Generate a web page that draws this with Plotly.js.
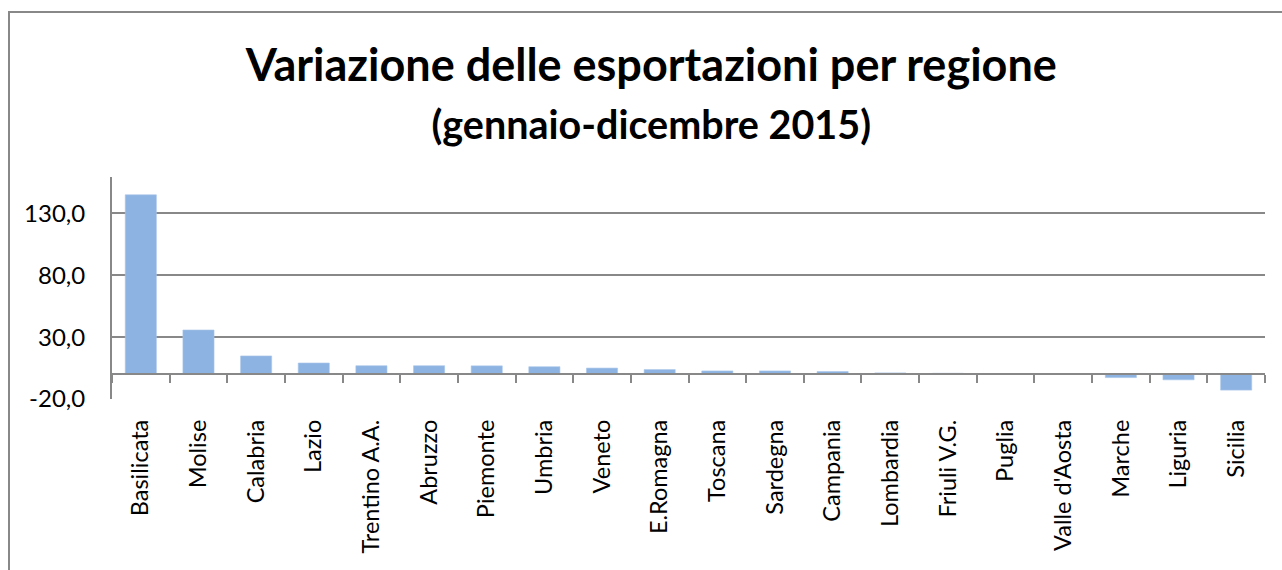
<!DOCTYPE html>
<html>
<head>
<meta charset="utf-8">
<script src="https://cdn.plot.ly/plotly-3.0.1.min.js"></script>
<style>
  html, body { margin: 0; padding: 0; overflow: hidden; background: #fff; }
  #chart { position: absolute; left: 0; top: 0; width: 1282px; height: 570px; }
  #frame { position: absolute; left: 8px; top: 11px; width: 1400px; height: 700px;
           border: 2px solid #888888; pointer-events: none; }
</style>
</head>
<body>
<div id="chart"></div>
<div id="frame"></div>
<script>
const regions = ["Basilicata", "Molise", "Calabria", "Lazio", "Trentino A.A.", "Abruzzo",
  "Piemonte", "Umbria", "Veneto", "E.Romagna", "Toscana", "Sardegna", "Campania",
  "Lombardia", "Friuli V.G.", "Puglia", "Valle d'Aosta", "Marche", "Liguria", "Sicilia"];
const variation = [145.1, 35.8, 14.8, 9.1, 6.9, 6.9, 6.8, 6.1, 5.0, 3.8, 2.7, 2.7, 2.2,
  1.1, 0.8, 0.1, 0.1, -2.7, -4.5, -12.8];
const yTicks = [-20, 30, 80, 130];
const yTickLabels = ["-20,0", "30,0", "80,0", "130,0"];
const titleLine1 = "Variazione delle esportazioni per regione";
const titleLine2 = "(gennaio-dicembre 2015)";

const FONT = "Lato, 'Open Sans', sans-serif";
const GRID = "#888888";
const n = regions.length;

const traces = [
  {
    type: "bar", x: regions, y: variation, xaxis: "x", yaxis: "y",
    marker: { color: "#8DB3E2", line: { color: "#a9c6ea", width: 0.6 } },
    hoverinfo: "x+y"
  },
  {
    type: "scatter", mode: "markers", x: regions, y: variation, xaxis: "x2", yaxis: "y",
    marker: { opacity: 0 }, hoverinfo: "skip", showlegend: false
  }
];

const yMin = -20, yMax = 159.5;
const zeroFrac = (0 - yMin) / (yMax - yMin);

const layout = {
  width: 1282, height: 570,
  margin: { l: 112, r: 17, t: 177, b: 171 },
  paper_bgcolor: "#ffffff", plot_bgcolor: "#ffffff",
  separators: ",.",
  showlegend: false,
  bargap: 0.46,
  font: { family: FONT, color: "#000000" },
  title: {
    text: "<b>" + titleLine1 + "</b><br><b><span style='font-size:39.5px'>" + titleLine2 + "</span></b>",
    font: { family: FONT, size: 45, color: "#000000" },
    x: 0.508, xanchor: "center", xref: "container",
    y: 0.858, yanchor: "top", yref: "container"
  },
  xaxis: {
    type: "category", categoryorder: "array", categoryarray: regions,
    range: [-0.5, n - 0.5],
    showline: false, showgrid: false, zeroline: false, ticks: "",
    tickangle: -90, ticklabelstandoff: 15,
    tickfont: { family: FONT, size: 23.5, color: "#000000" },
    fixedrange: true
  },
  xaxis2: {
    type: "category", categoryorder: "array", categoryarray: regions,
    range: [-0.5, n - 0.5], overlaying: "x", anchor: "free", position: zeroFrac,
    showline: true, linecolor: GRID, linewidth: 2,
    ticks: "outside", tickson: "boundaries", ticklen: 8, tickwidth: 2, tickcolor: GRID,
    showticklabels: false, showgrid: false, zeroline: false, fixedrange: true
  },
  yaxis: {
    range: [yMin, yMax],
    tickmode: "array", tickvals: yTicks, ticktext: yTickLabels,
    showgrid: true, gridcolor: GRID, gridwidth: 2,
    zeroline: false,
    showline: true, linecolor: GRID, linewidth: 2,
    ticks: "", ticklabelstandoff: 20,
    tickfont: { family: FONT, size: 24, color: "#000000" },
    fixedrange: true
  }
};

Plotly.newPlot("chart", traces, layout, { displayModeBar: false, staticPlot: true });
</script>
</body>
</html>
